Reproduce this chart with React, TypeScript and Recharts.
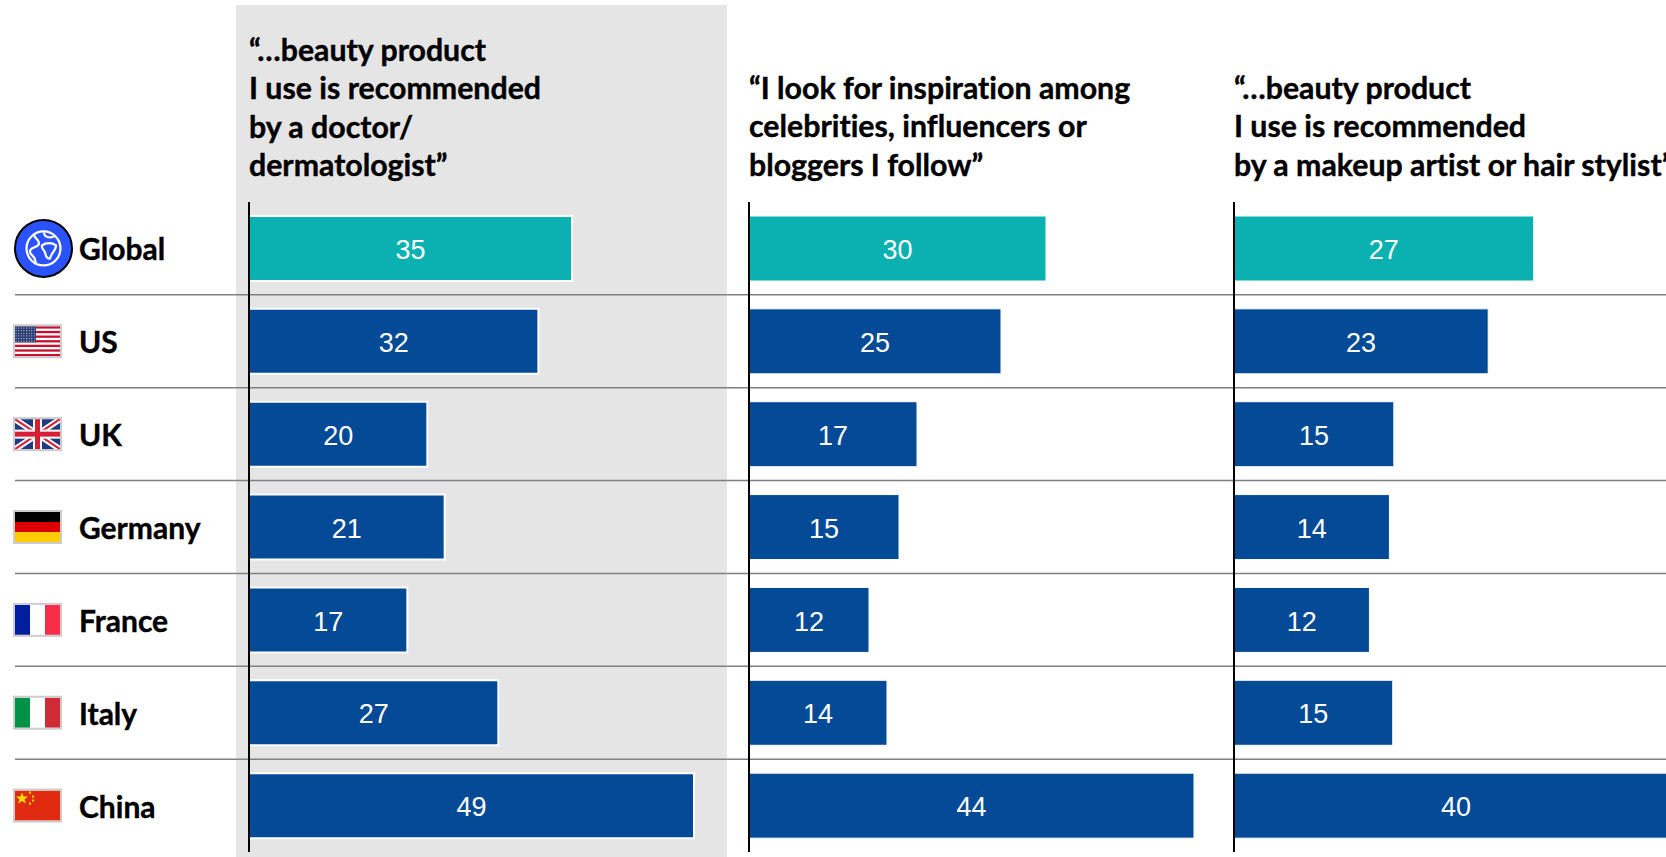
import React from 'react'
import { BarChart, Bar, XAxis, YAxis, CartesianGrid, Cell, LabelList } from 'recharts'

const countries = ['Global', 'US', 'UK', 'Germany', 'France', 'Italy', 'China']

const doctorLabels = [35, 32, 20, 21, 17, 27, 49]
const doctorValues = [35.5, 31.8, 19.6, 21.5, 17.4, 27.4, 48.9]

const celebrityLabels = [30, 25, 17, 15, 12, 14, 44]
const celebrityValues = [29.7, 25.2, 16.8, 15, 12, 13.8, 44.5]

const stylistLabels = [27, 23, 15, 14, 12, 15, 40]
const stylistValues = [27, 22.9, 14.4, 14, 12.2, 14.3, 40]

const doctorTitle = ['“…beauty product', 'I use is recommended', 'by a doctor/', 'dermatologist”']
const celebrityTitle = ['“I look for inspiration among', 'celebrities, influencers or', 'bloggers I follow”']
const stylistTitle = ['“…beauty product', 'I use is recommended', 'by a makeup artist or hair stylist”']

const TEAL = '#0BB1B0'
const NAVY = '#044A96'
const FULL_W = 1666
const FULL_H = 857
const PLOT_TOP = 202
const PLOT_BOTTOM = 5
const titleFont = 'Lato, sans-serif'

const rows = countries.map((name) => ({ name }))

const buildRows = (values: number[], labels: number[]) =>
  countries.map((name, i) => ({ name, value: values[i], label: labels[i] }))

// little flags next to the country names
const Flag = ({ name, y }: { name: string; y: number }) => {
  const x = 15
  const w = 45
  const h = 30
  const top = y - 15
  const frame = <rect x={x - 1} y={top - 1} width={w + 2} height={h + 2} fill="none" stroke="#ccc" strokeWidth={2} />

  if (name === 'Global') {
    return (
      <g>
        <circle cx={43.5} cy={y} r={28.5} fill="#2A52FF" stroke="#000" strokeWidth={2} />
        <g fill="none" stroke="#fff" strokeWidth={2.2}>
          <circle cx={43.5} cy={y} r={17} />
          <path d={`M34 ${y - 14} c1 5 5 5 5 9 c0 4 -7 3 -9 7 c-1 4 4 5 5 9 l1 5`} />
          <path d={`M44 ${y - 16} c0 4 3 5 7 5 l3 -1`} />
          <path d={`M42 ${y - 3} c4 -3 10 -3 14 0 c0 5 -5 8 -6 13 c-4 1 -4 -3 -5 -6 c-1 -3 -4 -4 -3 -7 z`} />
        </g>
      </g>
    )
  }
  if (name === 'US') {
    const stripes = [0, 1, 2, 3, 4, 5, 6]
    return (
      <g>
        <pattern id="usStars" width={2.6} height={2.6} patternUnits="userSpaceOnUse">
          <rect width={2.6} height={2.6} fill="#24386F" />
          <rect width={1.1} height={1.1} fill="#C9D0E6" />
        </pattern>
        <rect x={x} y={top} width={w} height={h} fill="#fff" />
        {stripes.map((s) => (
          <rect key={s} x={x} y={top + (s * h * 2) / 13} width={w} height={h / 13} fill="#C8102E" />
        ))}
        <rect x={x} y={top} width={21} height={16} fill="url(#usStars)" />
        {frame}
      </g>
    )
  }
  if (name === 'UK') {
    return (
      <g>
        <rect x={x} y={top} width={w} height={h} fill="#1F3A80" />
        <path d={`M${x} ${top} L${x + w} ${top + h} M${x + w} ${top} L${x} ${top + h}`} stroke="#fff" strokeWidth={6} />
        <path d={`M${x} ${top} L${x + w} ${top + h} M${x + w} ${top} L${x} ${top + h}`} stroke="#D81E34" strokeWidth={2} />
        <rect x={x + 18} y={top} width={9} height={h} fill="#fff" />
        <rect x={x} y={top + 10.5} width={w} height={9} fill="#fff" />
        <rect x={x + 20} y={top} width={5} height={h} fill="#D81E34" />
        <rect x={x} y={top + 12.5} width={w} height={5} fill="#D81E34" />
        {frame}
      </g>
    )
  }
  if (name === 'Germany') {
    return (
      <g>
        <rect x={x} y={top} width={w} height={10} fill="#000" />
        <rect x={x} y={top + 10} width={w} height={10} fill="#DD0000" />
        <rect x={x} y={top + 20} width={w} height={10} fill="#FFCC00" />
        {frame}
      </g>
    )
  }
  if (name === 'France' || name === 'Italy') {
    const isFrance = name === 'France'
    return (
      <g>
        <rect x={x} y={top} width={15} height={h} fill={isFrance ? '#001E9E' : '#009246'} />
        <rect x={x + 15} y={top} width={15} height={h} fill="#fff" />
        <rect x={x + 30} y={top} width={15} height={h} fill={isFrance ? '#F72C47' : '#CE2B37'} />
        {frame}
      </g>
    )
  }
  return (
    <g>
      <rect x={x} y={top} width={w} height={h} fill="#E02B10" />
      <polygon
        points={`${x + 7},${top + 2} ${x + 8.6},${top + 6} ${x + 13},${top + 6} ${x + 9.5},${top + 9} ${x + 11},${top + 13} ${x + 7},${top + 10.5} ${x + 3},${top + 13} ${x + 4.5},${top + 9} ${x + 1},${top + 6} ${x + 5.4},${top + 6}`}
        fill="#FFDE00"
      />
      <rect x={x + 14} y={top + 1} width={2} height={2} fill="#FFDE00" />
      <rect x={x + 17} y={top + 5} width={2} height={2} fill="#FFDE00" />
      <rect x={x + 17} y={top + 9} width={2} height={2} fill="#FFDE00" />
      <rect x={x + 14} y={top + 12} width={2} height={2} fill="#FFDE00" />
      {frame}
    </g>
  )
}

const CountryTick = (props: any) => {
  const { y, payload } = props
  return (
    <g>
      <Flag name={payload.value} y={y} />
      <text
        x={79}
        y={y + 12}
        fontFamily={titleFont}
        fontWeight={700}
        fontSize={30}
        fill="#000"
        stroke="#000"
        strokeWidth={0.4}
        textAnchor="start"
        style={{ fontVariantLigatures: 'none' }}
      >
        {payload.value}
      </text>
    </g>
  )
}

const Title = ({ lines, left, top }: { lines: string[]; left: number; top: number }) => (
  <div
    style={{
      position: 'absolute',
      left,
      top,
      fontFamily: titleFont,
      fontWeight: 700,
      fontSize: 30.3,
      lineHeight: '38.3px',
      color: '#000',
      whiteSpace: 'nowrap',
      fontVariantLigatures: 'none',
      WebkitTextStroke: '0.4px #000',
    }}
  >
    {lines.map((l) => (
      <div key={l}>{l}</div>
    ))}
  </div>
)

const Panel = ({ data, left, width, max, outline }: { data: any[]; left: number; width: number; max: number; outline: number }) => (
  <div style={{ position: 'absolute', left, top: 0 }}>
    <BarChart
      layout="vertical"
      width={width}
      height={FULL_H}
      data={data}
      margin={{ top: PLOT_TOP, right: 0, bottom: PLOT_BOTTOM, left: 0 }}
    >
      <XAxis type="number" hide domain={[0, max]} />
      <YAxis type="category" dataKey="name" width={1} tick={false} tickLine={false} axisLine={{ stroke: '#000', strokeWidth: 2 }} />
      <Bar dataKey="value" barSize={65} isAnimationActive={false} stroke="#fff" strokeWidth={outline}>
        {data.map((d) => (
          <Cell key={d.name} fill={d.name === 'Global' ? TEAL : NAVY} />
        ))}
        <LabelList
          dataKey="label"
          position="center"
          fill="#fff"
          stroke="none"
          fontSize={27}
          dy={1}
          fontFamily="'Liberation Sans', Arial, sans-serif"
        />
      </Bar>
    </BarChart>
  </div>
)

export default function App() {
  return (
    <div style={{ position: 'absolute', left: 0, top: 0, width: FULL_W, height: FULL_H, overflow: 'hidden', background: '#fff' }}>
      <div style={{ position: 'absolute', left: 236, top: 5, width: 491, height: FULL_H - 5, background: '#E5E5E5' }} />

      <div style={{ position: 'absolute', left: 0, top: 0 }}>
        <BarChart
          layout="vertical"
          width={FULL_W}
          height={FULL_H}
          data={rows}
          margin={{ top: PLOT_TOP, right: 0, bottom: PLOT_BOTTOM, left: 0 }}
        >
          <CartesianGrid
            vertical={false}
            stroke="#808080"
            strokeWidth={1.5}
            horizontalCoordinatesGenerator={({ offset }: any) =>
              countries.slice(1).map((_, i) => offset.top + ((i + 1) * offset.height) / countries.length)
            }
          />
          <XAxis type="number" hide domain={[0, 1]} />
          <YAxis type="category" dataKey="name" width={15} interval={0} axisLine={false} tickLine={false} tick={<CountryTick />} />
        </BarChart>
      </div>

      <Title lines={doctorTitle} left={249} top={30} />
      <Title lines={celebrityTitle} left={749} top={68} />
      <Title lines={stylistTitle} left={1234} top={68} />

      <Panel data={buildRows(doctorValues, doctorLabels)} left={248} width={481} max={480 / 9.1} outline={2} />
      <Panel data={buildRows(celebrityValues, celebrityLabels)} left={748} width={481} max={48} outline={1} />
      <Panel data={buildRows(stylistValues, stylistLabels)} left={1233} width={445} max={40} outline={1} />
    </div>
  )
}
